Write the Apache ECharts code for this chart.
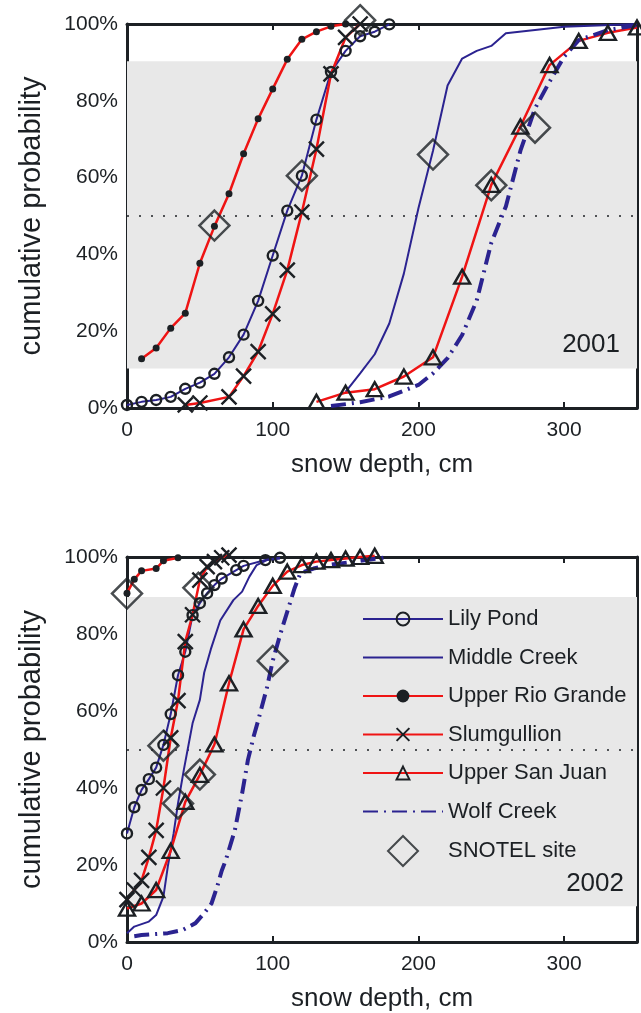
<!DOCTYPE html>
<html lang="en">
<head>
<meta charset="UTF-8">
<title>snow depth cumulative probability</title>
<script src="https://cdn.jsdelivr.net/npm/echarts@6/dist/echarts.min.js"></script>
<style>
    html, body { margin: 0; padding: 0; background: #fff; }
    #main { width: 641px; height: 1013px; }
</style>
</head>
<body>
<div id="main"></div>
<script>
    // [snow depth cm, cumulative probability %]
    // 2001
    var lilyPond01 = [[0, 0.8], [10, 1.6], [20, 2.1], [30, 2.9], [40, 5], [50, 6.6], [60, 8.9], [70, 13.2], [80, 19.1], [90, 27.9],
        [100, 39.7], [110, 51.4], [120, 60.5], [130, 75.1], [140, 87.5], [150, 93], [160, 96.8], [170, 98], [180, 99.9]];
    var middleCreek01 = [[150, 4.2], [160, 9], [170, 14], [180, 22], [190, 35], [200, 52], [210, 67], [220, 84], [230, 91],
        [240, 93], [250, 94.3], [260, 97.6], [300, 99.3], [350, 100]];
    var upperRioGrande01 = [[10, 12.8], [20, 15.6], [30, 20.8], [40, 24.7], [50, 37.7], [60, 47.3], [70, 55.8], [80, 66.2],
        [90, 75.3], [100, 83.1], [110, 90.8], [120, 96], [130, 98], [140, 99.4], [150, 100]];
    var slumgullion01 = [[40, 0.8], [50, 1.3], [70, 2.9], [80, 8.3], [90, 14.7], [100, 24.5], [110, 35.9], [120, 51],
        [130, 67.4], [140, 87], [150, 96.5], [160, 100]];
    var upperSanJuan01 = [[130, 1.6], [150, 4], [170, 4.9], [190, 8.2], [210, 13.2], [230, 34.2], [250, 58.1], [270, 73.3],
        [290, 89.3], [310, 95.6], [330, 97.7], [350, 99.1]];
    var wolfCreek01 = [[140, 0.5], [160, 1.5], [180, 3], [200, 6], [210, 9], [220, 13], [230, 19], [240, 28], [250, 43],
        [260, 52.5], [270, 67], [280, 78], [290, 85], [300, 91.5], [310, 95.8], [330, 98.4], [350, 99.7]];
    var snotel01 = [[60, 47.5], [120, 60.5], [160, 101], [210, 66], [250, 58], [280, 73]];

    // 2002
    var lilyPond02 = [[0, 28.2], [5, 35], [10, 39.5], [15, 42.3], [20, 45.3], [25, 51.2], [30, 59.2], [35, 69.3], [40, 75.4],
        [45, 84.9], [50, 88], [55, 90.6], [60, 92.7], [65, 94.4], [75, 96.6], [80, 97.7], [95, 99.2], [105, 99.8]];
    var middleCreek02 = [[0, 2.3], [5, 4], [15, 5.3], [20, 7], [25, 11.8], [28, 19.6], [32, 28.2], [35, 36], [39, 44.7],
        [45, 56.8], [50, 62.9], [53, 70], [57.5, 76], [64, 83.5], [73, 88.8], [79, 91], [84, 94.9], [89, 97.9], [96, 99.2], [105, 99.6]];
    var upperRioGrande02 = [[0, 90.6], [5, 94.2], [10, 96.4], [20, 97], [25, 99], [35, 99.8]];
    var slumgullion02 = [[0, 11], [5, 13.5], [10, 16], [15, 22], [20, 29], [25, 40], [30, 53], [35, 62.7], [40, 78],
        [45, 85], [50, 94], [55, 97.5], [60, 98.8], [65, 99.8], [70, 100.5]];
    var upperSanJuan02 = [[0, 8.7], [10, 10], [20, 13.5], [30, 23.7], [40, 36.4], [50, 43.4], [60, 51.3], [70, 67.2], [80, 81.2],
        [90, 87.3], [100, 92.5], [110, 96.2], [120, 97.9], [130, 98.8], [140, 99.2], [150, 99.6], [160, 100], [170, 100.3]];
    var wolfCreek02 = [[5, 1.5], [10, 1.8], [28, 2.3], [38, 3.1], [47, 4.9], [53, 7.5], [58, 10], [62, 14.5], [65, 18.5],
        [68, 21.5], [74, 29], [79, 38.6], [83, 47.3], [87, 53.5], [90, 57.5], [96, 66], [100, 73], [105, 79.7], [110, 85.8],
        [115, 91.9], [119, 95.8], [128, 97], [140, 98], [160, 99], [180, 100]];
    var snotel02 = [[0, 90.5], [25, 51], [35, 36], [49, 92], [50, 43.5], [100, 73]];

    var years = ['2001', '2002'];
    var bands = [[10.3, 90.3], [9.3, 89.6]];   // shaded 10-90% range
    var median = 50;
    var depthTicks = [0, 350, 100];
    var probTicks = [0, 100, 20];

    var siteNames = ['Lily Pond', 'Middle Creek', 'Upper Rio Grande', 'Slumgullion', 'Upper San Juan', 'Wolf Creek'];
    var siteData = [
        [lilyPond01, middleCreek01, upperRioGrande01, slumgullion01, upperSanJuan01, wolfCreek01],
        [lilyPond02, middleCreek02, upperRioGrande02, slumgullion02, upperSanJuan02, wolfCreek02]
    ];
    var snotelData = [snotel01, snotel02];

    var RED = '#ef1414', BLUE = '#2b2390', INK = '#1c2024', FONT = '"Liberation Sans", Arial, sans-serif';
    // diamond centred in an 80x30 box (the bare moveTo's only widen the box)
    var DIAMOND_ICON = 'path://M0,0M80,30M40,0L55,15L40,30L25,15Z';

    var siteStyle = {
        'Lily Pond': {color: BLUE, width: 2, symbol: 'circle', size: 10},
        'Middle Creek': {color: BLUE, width: 2, symbol: 'none'},
        'Upper Rio Grande': {color: RED, width: 2.5, symbol: 'circle', size: 7, filled: true},
        'Slumgullion': {color: RED, width: 2.5, symbol: 'path://M0,0L10,10M10,0L0,10', size: 15},
        'Upper San Juan': {color: RED, width: 2.5, symbol: 'triangle', size: [16, 14]},
        'Wolf Creek': {color: BLUE, width: 4, symbol: 'none', type: [15, 6, 2, 6]}
    };

    var myChart = echarts.init(document.getElementById('main'));

    var grids = [
        {left: 127, top: 24, width: 510, height: 384},
        {left: 127, top: 557, width: 510, height: 385}
    ];

    var xAxes = [], yAxes = [], series = [];

    years.forEach(function (year, g) {
        ['bottom', 'top'].forEach(function (pos) {
            var main = pos === 'bottom';
            xAxes.push({
                type: 'value', gridIndex: g, position: pos,
                min: depthTicks[0], max: depthTicks[1], interval: depthTicks[2],
                name: main ? 'snow depth, cm' : '',
                nameLocation: 'middle', nameGap: 44,
                nameTextStyle: {color: INK, fontSize: 26, fontFamily: FONT},
                axisLine: {show: true, onZero: false, lineStyle: {color: INK, width: 3}},
                axisTick: {show: true, inside: true, length: 6, lineStyle: {color: INK, width: 2}},
                axisLabel: {show: main, showMaxLabel: false, margin: 12, color: INK, fontSize: 21, fontFamily: FONT},
                splitLine: {show: false}
            });
        });
        ['left', 'right'].forEach(function (pos) {
            var main = pos === 'left';
            yAxes.push({
                type: 'value', gridIndex: g, position: pos,
                min: probTicks[0], max: probTicks[1], interval: probTicks[2],
                name: main ? 'cumulative probability' : '',
                nameLocation: 'middle', nameGap: 81,
                nameTextStyle: {color: INK, fontSize: 29, fontFamily: FONT},
                axisLine: {show: true, onZero: false, lineStyle: {color: INK, width: 3}},
                axisTick: {show: true, inside: true, length: 6, lineStyle: {color: INK, width: 2}},
                axisLabel: {show: main, margin: 9, color: INK, fontSize: 21, fontFamily: FONT, formatter: '{value}%'},
                splitLine: {show: false}
            });
        });

        siteNames.forEach(function (name, k) {
            var st = siteStyle[name];
            var s = {
                type: 'line', name: name,
                xAxisIndex: g * 2, yAxisIndex: g * 2,
                data: siteData[g][k],
                clip: false,
                symbol: st.symbol,
                symbolSize: st.size || 0,
                showAllSymbol: true,
                lineStyle: {color: st.color, width: st.width, type: st.type || 'solid'},
                itemStyle: {
                    color: st.filled ? INK : 'transparent',
                    borderColor: INK,
                    borderWidth: st.filled ? 0 : 2.4
                },
                emphasis: {disabled: true},
                z: 3
            };
            if (k === 0) {
                s.markArea = {
                    silent: true, z: 1,
                    itemStyle: {color: '#e8e8e8'},
                    data: [[{yAxis: bands[g][0]}, {yAxis: bands[g][1]}]]
                };
                s.markLine = {
                    silent: true, z: 2, symbol: 'none',
                    label: {show: false},
                    lineStyle: {color: INK, width: 1.5, type: [2, 10]},
                    data: [{yAxis: median}]
                };
            }
            series.push(s);
        });

        series.push({
            type: 'scatter', name: 'SNOTEL site',
            xAxisIndex: g * 2, yAxisIndex: g * 2,
            data: snotelData[g],
            clip: false,
            symbol: 'diamond', symbolSize: 30,
            itemStyle: {color: 'transparent', borderColor: INK, borderWidth: 2.5},
            emphasis: {disabled: true},
            z: 4
        });
    });

    var hidden = {color: 'transparent', borderColor: 'transparent', borderWidth: 0};
    var legendItems = siteNames.map(function (name) {
        return siteStyle[name].symbol === 'none' ? {name: name, itemStyle: hidden} : {name: name};
    });

    var option = {
        animation: false,
        backgroundColor: '#fff',
        title: [
            {text: years[0], right: 16, top: 327, textStyle: {color: INK, fontSize: 26, fontWeight: 'normal', fontFamily: FONT}},
            {text: years[1], right: 12, top: 866, textStyle: {color: INK, fontSize: 26, fontWeight: 'normal', fontFamily: FONT}}
        ],
        legend: [{
            data: legendItems,
            orient: 'vertical',
            left: 357, top: 603,
            itemWidth: 80, itemHeight: 16, itemGap: 16.5,
            selectedMode: false,
            textStyle: {color: INK, fontSize: 22, fontFamily: FONT}
        }, {
            data: [{name: 'SNOTEL site', icon: DIAMOND_ICON}],
            orient: 'vertical',
            left: 357, top: 830,
            itemWidth: 80, itemHeight: 30,
            selectedMode: false,
            textStyle: {color: INK, fontSize: 22, fontFamily: FONT}
        }],
        grid: grids,
        xAxis: xAxes,
        yAxis: yAxes,
        series: series
    };

    myChart.setOption(option);
</script>
</body>
</html>
